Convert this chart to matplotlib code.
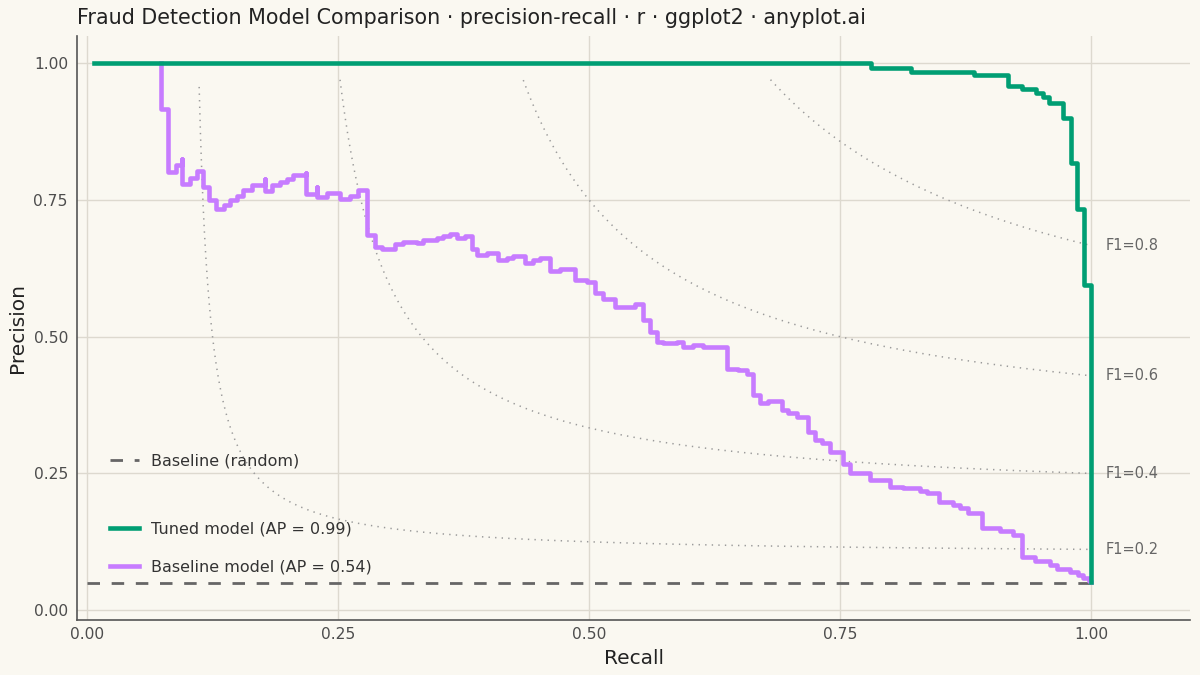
import numpy as np
import matplotlib
matplotlib.use("Agg")
import matplotlib.pyplot as plt

# precision-recall points (step "post")
tuned_recall = [0.007, 0.781, 0.821, 0.883, 0.917, 0.931, 0.945, 0.952,
                0.958, 0.9725, 0.980, 0.9864, 0.993, 1.000]
tuned_precision = [1.000, 0.992, 0.984, 0.979, 0.9585, 0.9525, 0.946, 0.938,
                   0.928, 0.900, 0.818, 0.7325, 0.594, 0.051]

base_recall = [0.0737, 0.0737, 0.0810, 0.0886, 0.0943, 0.0943, 0.1026, 0.1092,
               0.1152, 0.1218, 0.1285, 0.1365, 0.1424, 0.1491, 0.1557, 0.1640,
               0.1773, 0.1773, 0.1839, 0.1922, 0.1989, 0.2055, 0.2181, 0.2181,
               0.2294, 0.2294, 0.2387, 0.2520, 0.2620, 0.2703, 0.2792, 0.2869,
               0.2935, 0.3068, 0.3151, 0.3284, 0.3350, 0.3483, 0.3549, 0.3616,
               0.3682, 0.3765, 0.3832, 0.3881, 0.3981, 0.4097, 0.4180, 0.4246,
               0.4363, 0.4446, 0.4512, 0.4612, 0.4711, 0.4861, 0.4977, 0.5060,
               0.5143, 0.5259, 0.5458, 0.5541, 0.5608, 0.5674, 0.5740, 0.5873,
               0.5939, 0.6039, 0.6139, 0.6371, 0.6487, 0.6570, 0.6637, 0.6703,
               0.6786, 0.6919, 0.6985, 0.7069, 0.7185, 0.7251, 0.7317, 0.7400,
               0.7533, 0.7600, 0.7799, 0.7998, 0.8131, 0.8297, 0.8363, 0.8489,
               0.8629, 0.8695, 0.8778, 0.8911, 0.9094, 0.9226, 0.9310, 0.9442,
               0.9592, 0.9658, 0.9791, 0.9874, 0.9924, 0.9983, 1.000]
base_precision = [1.000, 0.917, 0.801, 0.8135, 0.824, 0.780, 0.790, 0.803,
                  0.774, 0.7495, 0.7325, 0.740, 0.7495, 0.758, 0.768, 0.777,
                  0.789, 0.7666, 0.777, 0.783, 0.789, 0.795, 0.7995, 0.7617,
                  0.774, 0.7556, 0.762, 0.751, 0.758, 0.768, 0.6856, 0.664,
                  0.661, 0.669, 0.673, 0.671, 0.676, 0.6795, 0.6837, 0.687,
                  0.680, 0.6837, 0.661, 0.649, 0.653, 0.640, 0.643, 0.647,
                  0.634, 0.640, 0.643, 0.620, 0.6246, 0.603, 0.600, 0.579,
                  0.568, 0.5545, 0.559, 0.530, 0.5088, 0.4905, 0.488, 0.4905,
                  0.4814, 0.484, 0.482, 0.4418, 0.4388, 0.432, 0.393, 0.379,
                  0.3827, 0.3656, 0.3607, 0.3534, 0.326, 0.3108, 0.3047, 0.2894,
                  0.2681, 0.2499, 0.2377, 0.2254, 0.223, 0.2181, 0.2145, 0.198,
                  0.192, 0.186, 0.178, 0.1493, 0.145, 0.137, 0.0975, 0.090,
                  0.0823, 0.0744, 0.070, 0.064, 0.058, 0.053, 0.051]

prevalence = 0.05
f1_levels = [0.2, 0.4, 0.6, 0.8]
x_ticks = [0.0, 0.25, 0.5, 0.75, 1.0]
y_ticks = [0.0, 0.25, 0.5, 0.75, 1.0]

BG = "#FAF8F1"
GREEN = "#009E73"
PURPLE = "#C77CFF"
GRID = "#DDD9CF"

plt.rcParams["font.family"] = ["DejaVu Sans"]

fig = plt.figure(figsize=(12, 6.75), dpi=100, facecolor=BG)
ax = fig.add_axes([77 / 1200, 1 - 620 / 675, (1190 - 77) / 1200, (620 - 36) / 675])
ax.set_facecolor(BG)

# iso-F1 curves
r = np.linspace(0.01, 1.0, 3000)
for f in f1_levels:
    with np.errstate(divide="ignore", invalid="ignore"):
        p = f * r / (2 * r - f)
    keep = (p > 0) & (p <= 0.97)
    ax.plot(r[keep], p[keep], color="#9A9A9A", lw=1.1, linestyle=(0, (0.9, 3.4)),
            zorder=1)
    ax.text(1.015, f / (2 - f), f"F1={f}", color="#666666", fontsize=10.5,
            ha="left", va="center")

# random baseline
rand_line, = ax.plot([0.0, 1.0], [prevalence, prevalence], color="#666666", lw=2,
                     dashes=(4.5, 4.2), zorder=2)

base_line, = ax.step(base_recall, base_precision, where="post", color=PURPLE,
                     lw=3.3, zorder=3)
tuned_line, = ax.step(tuned_recall, tuned_precision, where="post", color=GREEN,
                      lw=3.3, zorder=4)

ax.set_xlim(-0.01, 1.0986)
ax.set_ylim(-0.018, 1.0497)
ax.set_xticks(x_ticks)
ax.set_yticks(y_ticks)
ax.set_xticklabels([f"{v:.2f}" for v in x_ticks])
ax.set_yticklabels([f"{v:.2f}" for v in y_ticks])
ax.tick_params(length=0, labelsize=11.2, labelcolor="#4D4D4D")
ax.tick_params(axis="x", pad=5)
ax.tick_params(axis="y", pad=6.5)
ax.grid(True, color=GRID, lw=1.0, zorder=0)
ax.set_axisbelow(True)
for side in ["top", "right"]:
    ax.spines[side].set_visible(False)
for side in ["left", "bottom"]:
    ax.spines[side].set_color("#555555")
    ax.spines[side].set_linewidth(1.2)

ax.set_xlabel("Recall", fontsize=14.5, color="#222222", labelpad=5)
ax.set_ylabel("Precision", fontsize=14.5, color="#222222", labelpad=5)

fig.text(77 / 1200, 1 - 23.5 / 675,
         "Fraud Detection Model Comparison · precision-recall · r · ggplot2 · anyplot.ai",
         fontsize=14.9, color="#222222", ha="left", va="baseline")

leg_models = ax.legend([tuned_line, base_line],
                       ["Tuned model (AP = 0.99)", "Baseline model (AP = 0.54)"],
                       loc="upper left", bbox_to_anchor=(0.030, 0.1685),
                       frameon=False, fontsize=11.5, handlelength=1.8,
                       handletextpad=0.75, labelspacing=1.45, borderpad=0,
                       borderaxespad=0, labelcolor="#333333")
ax.add_artist(leg_models)
ax.legend([rand_line], ["Baseline (random)"], loc="upper left",
          bbox_to_anchor=(0.030, 0.285), frameon=False, fontsize=11.5,
          handlelength=1.8, handletextpad=0.75, borderpad=0, borderaxespad=0,
          labelcolor="#333333")

fig.savefig("out.png", dpi=100, facecolor=BG)
